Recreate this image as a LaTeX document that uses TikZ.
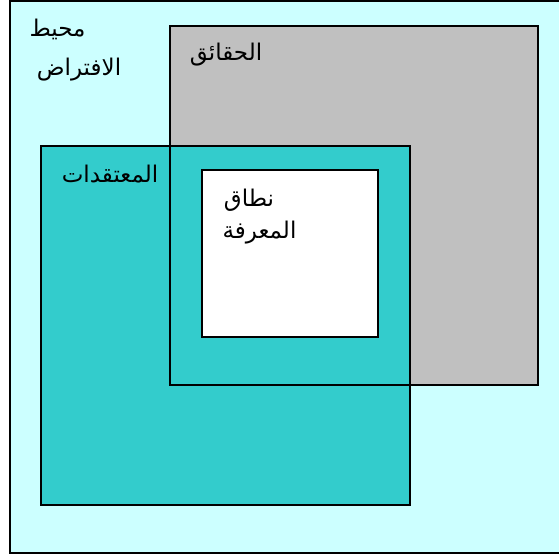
\documentclass[tikz,border=0pt]{standalone}
\usepackage{fontspec}
\newfontfamily\arabicfont[Script=Arabic]{DejaVu Sans}
\TeXXeTstate=1
\definecolor{outerbg}{HTML}{CCFFFF}
\definecolor{factgray}{HTML}{C0C0C0}
\definecolor{belteal}{HTML}{33CCCC}
\tikzset{
  frame/.style={draw=black,line width=2pt},
  lbl/.style={inner sep=0pt,font=\arabicfont\fontsize{23}{26}\selectfont}
}
\begin{document}
\begin{tikzpicture}[x=1pt,y=-1pt]
\useasboundingbox (0,0) rectangle (559,556);
\clip (0,0) rectangle (559,556);
% fills
\fill[outerbg] (10,1) rectangle (570,553);
\fill[factgray] (170,26) rectangle (538,385);
\fill[belteal] (41,146) rectangle (410,505);
\fill[white] (202,170) rectangle (378,337);
% borders
\draw[frame] (10,1) rectangle (570,553);
\draw[frame] (170,26) rectangle (538,385);
\draw[frame] (41,146) rectangle (410,505);
\draw[frame] (202,170) rectangle (378,337);
% labels
\node[lbl,anchor=center] (t1) at (57.5,29) {\beginR محيط\endR};
\node[lbl,anchor=center] (t2) at (79,70) {\beginR الافتراض\endR};
\node[lbl,anchor=center] (t3) at (226,55) {\beginR الحقائق\endR};
\node[lbl,anchor=center] (t4) at (110,174) {\beginR المعتقدات\endR};
\node[lbl,anchor=center] (t5) at (249,200) {\beginR نطاق\endR};
\node[lbl,anchor=center] (t6) at (259.5,233) {\beginR المعرفة\endR};
\end{tikzpicture}
\end{document}
